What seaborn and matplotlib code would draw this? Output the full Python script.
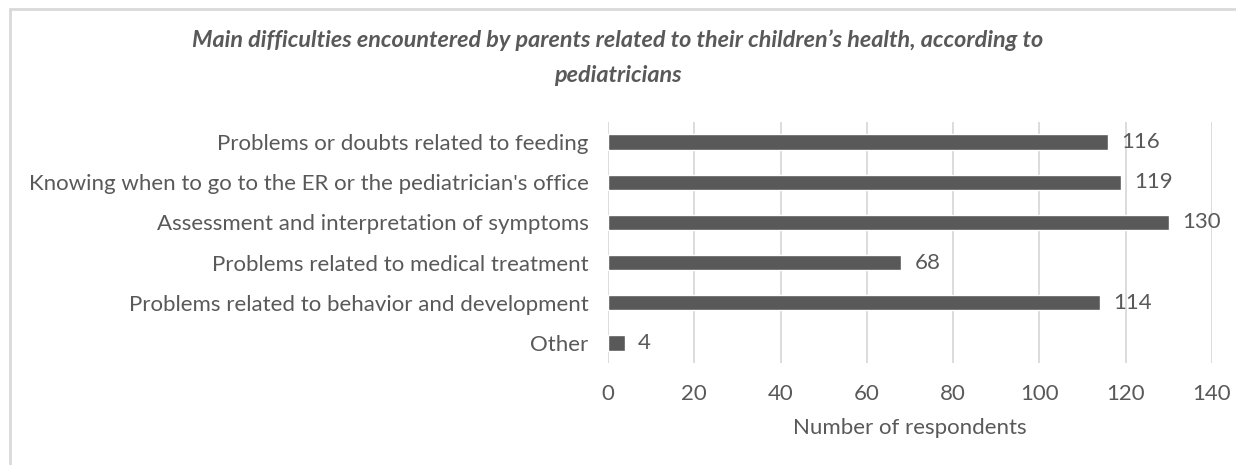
import matplotlib
matplotlib.use("Agg")
import matplotlib.pyplot as plt
import seaborn as sns
import pandas as pd
from matplotlib.lines import Line2D

categories = [
    "Problems or doubts related to feeding",
    "Knowing when to go to the ER or the pediatrician's office",
    "Assessment and interpretation of symptoms",
    "Problems related to medical treatment",
    "Problems related to behavior and development",
    "Other",
]
values = [116, 119, 130, 68, 114, 4]
x_ticks = [0, 20, 40, 60, 80, 100, 120, 140]

sns.set_theme(style="white")
plt.rcParams['font.family'] = ['Lato', 'DejaVu Sans']

TXT = "#595959"
BAR = "#595959"
GRID = "#d9d9d9"

df = pd.DataFrame({"category": categories, "value": values})

fig = plt.figure(figsize=(12.36, 4.65), dpi=100)
ax = fig.add_axes([608/1236, 1-363/465, (1212-608)/1236, (363-122)/465])

sns.barplot(data=df, y="category", x="value", orient="h", color=BAR,
            width=0.38, ax=ax, saturation=1)

ax.set_xlim(0, 140)
ax.set_ylim(5.5, -0.5)
ax.set_xticks(x_ticks)
ax.set_xticklabels([str(t) for t in x_ticks])
ax.xaxis.grid(True, color=GRID, linewidth=1.3)
ax.set_axisbelow(True)
for s in ax.spines.values():
    s.set_visible(False)
ax.tick_params(axis="both", length=0, colors=TXT, labelsize=16)
ax.tick_params(axis="y", pad=14)
ax.tick_params(axis="x", pad=15)
ax.set_ylabel("")
ax.set_xlabel("Number of respondents", color=TXT, fontsize=16, labelpad=10)

for i, v in enumerate(values):
    ax.text(v + 3.0, i, str(v), va="center", ha="left", color=TXT, fontsize=16)

fig.text(0.5, 1-40/465, "Main difficulties encountered by parents related to their children\u2019s health, according to",
         ha="center", va="center", fontsize=16.8, style="italic", weight="bold", color=TXT)
fig.text(0.5, 1-75/465, "pediatricians",
         ha="center", va="center", fontsize=16.8, style="italic", weight="bold", color=TXT)

# outer border
fig.add_artist(Line2D([10/1236, 10/1236], [0, 1-9/465], transform=fig.transFigure, color="#d9d9d9", linewidth=2))
fig.add_artist(Line2D([10/1236, 1], [1-9/465, 1-9/465], transform=fig.transFigure, color="#d9d9d9", linewidth=2))

fig.savefig("out.png", dpi=100)
